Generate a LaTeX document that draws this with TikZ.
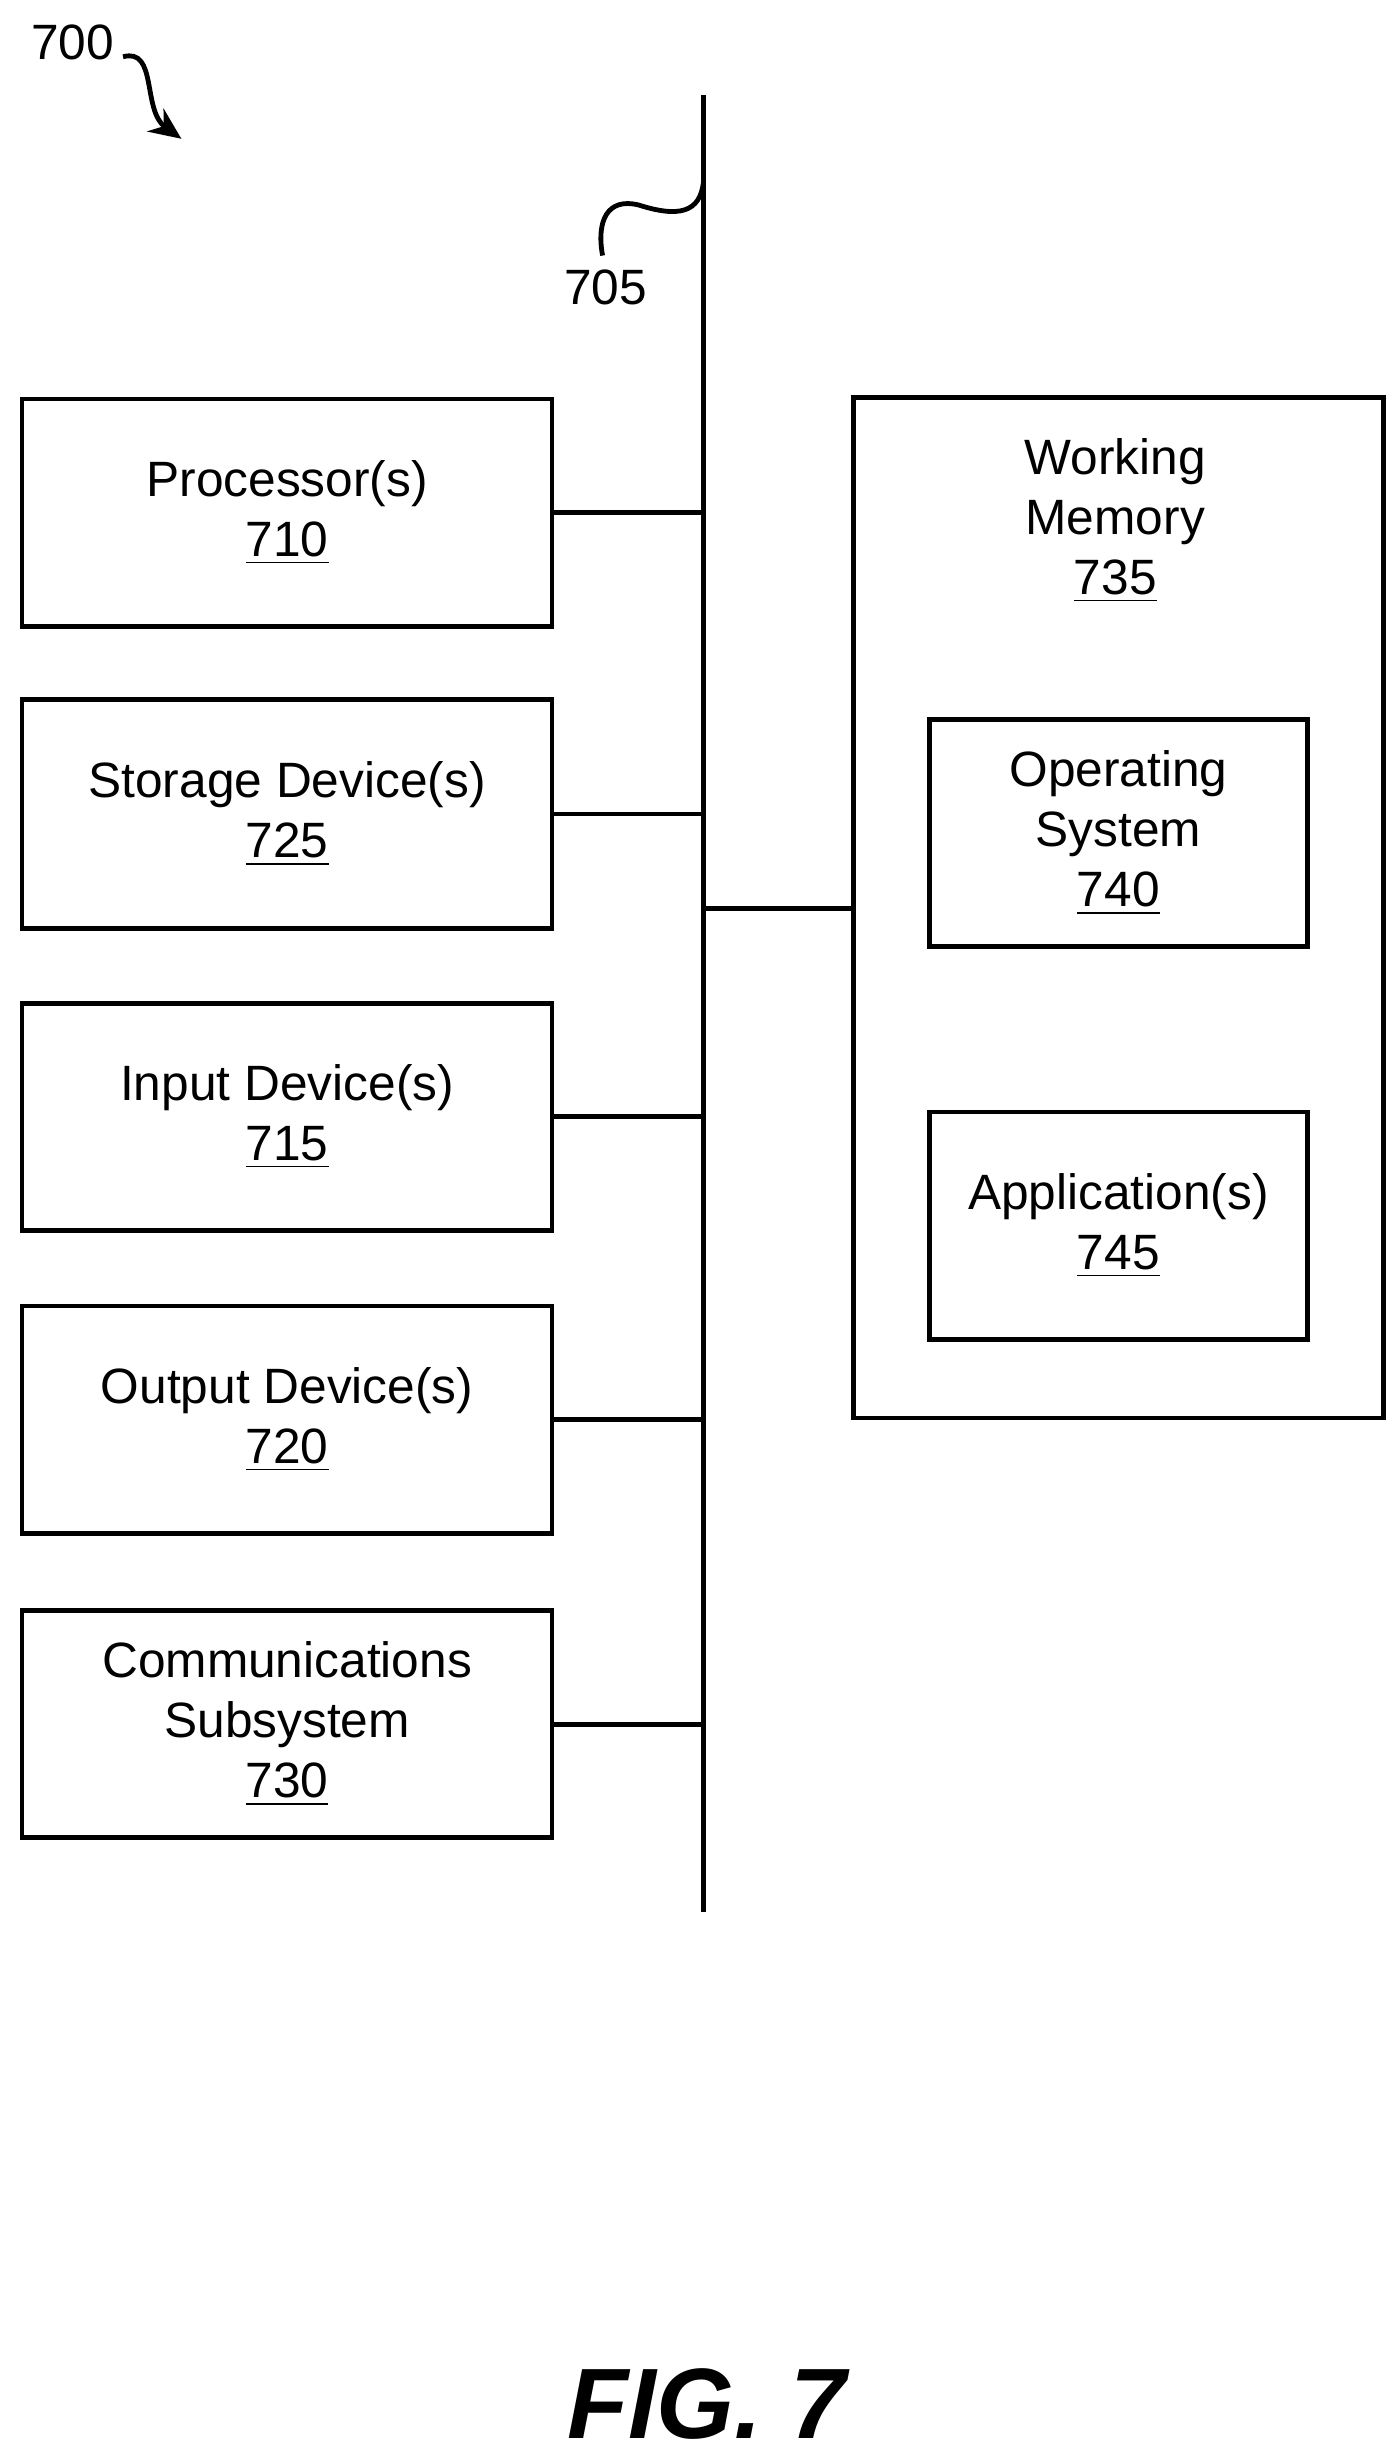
\documentclass[tikz,border=0pt]{standalone}
\usepackage{fontspec}
\setmainfont{Liberation Sans}
\usetikzlibrary{arrows.meta}
\begin{document}
\begin{tikzpicture}[x=0.394pt,y=-0.394pt,line width=1.2pt,
 box/.style={draw,rectangle,inner sep=0pt,align=center,font=\fontsize{12.4}{15}\selectfont},
 lab/.style={font=\fontsize{12.4}{15}\selectfont}]
\useasboundingbox (0,0) rectangle (886,1557);
\node[box,minimum width=336*0.394pt,minimum height=144*0.394pt] (p) at (182,325) {Processor(s)\\\underline{710}};
\node[box,minimum width=336*0.394pt,minimum height=145*0.394pt] (s) at (182,516) {Storage Device(s)\\\underline{725}};
\node[box,minimum width=336*0.394pt,minimum height=144*0.394pt] (i) at (182,708) {Input Device(s)\\\underline{715}};
\node[box,minimum width=336*0.394pt,minimum height=144*0.394pt] (o) at (182,900) {Output Device(s)\\\underline{720}};
\node[box,minimum width=336*0.394pt,minimum height=144*0.394pt] (c) at (182,1093) {Communications\\Subsystem\\\underline{730}};
\draw (446,60) coordinate (bt) -- (446,1212) coordinate (bb);
\node[draw,rectangle,minimum width=336*0.394pt,minimum height=647*0.394pt,inner sep=0pt] (wm) at (709,575.5) {};
\node[lab,align=center] (wmt) at (707,330) {Working\\Memory\\\underline{735}};
\node[box,minimum width=240*0.394pt,minimum height=144*0.394pt] (os) at (709,528) {Operating\\System\\\underline{740}};
\node[box,minimum width=240*0.394pt,minimum height=144*0.394pt] (ap) at (709,777) {Application(s)\\\underline{745}};
\foreach \n/\y in {p/325,s/516,i/708,o/900,c/1093}{
 \coordinate (b\n) at (446,\y);
 \draw (\n.east) -- (b\n);}
\coordinate (bw) at (446,576);
\draw (bw) -- (wm.west |- bw);
\node[lab] (l700) at (46,27) {700};
\coordinate (a1) at (78,36);
\coordinate (a2) at (115,88);
\draw[-{Stealth[length=8pt,width=7pt]}] (a1) .. controls (100,30) and (90,70) .. (a2);
\node[lab] (l705) at (384,182) {705};
\coordinate (q1) at (382,162);
\coordinate (q2) at (446,115);
\draw (q1) .. controls (378,140) and (385,125) .. (405,130) .. controls (430,138) and (444,135) .. (q2);
\node[font=\fontsize{25}{30}\selectfont\bfseries\itshape] (fig) at (448,1524) {FIG. 7};
\end{tikzpicture}
\end{document}
